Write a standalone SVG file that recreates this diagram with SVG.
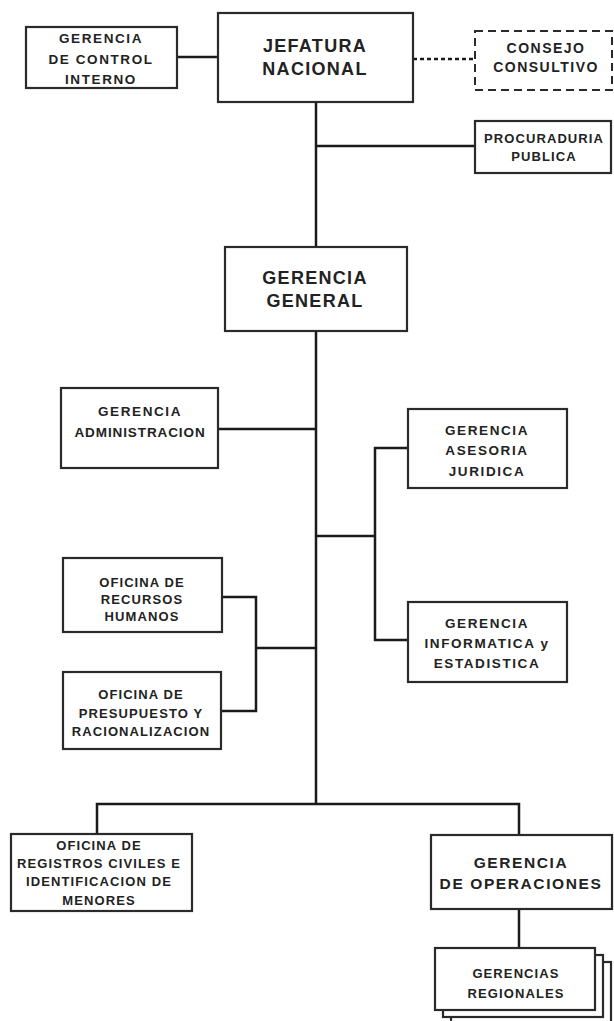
<svg xmlns="http://www.w3.org/2000/svg" width="614" height="1021" viewBox="0 0 614 1021">
<style>
.box{fill:#fff;stroke:#2a2a2a;stroke-width:2.2}
.dash{fill:#fff;stroke:#2a2a2a;stroke-width:2;stroke-dasharray:8 5}
.ln{fill:none;stroke:#1a1a1a;stroke-width:2.5}
.dot{fill:none;stroke:#1a1a1a;stroke-width:2.5;stroke-dasharray:4 3}
text{font-family:"Liberation Sans",Arial,sans-serif;font-weight:bold;fill:#222;text-anchor:middle}
.s{font-size:13px;letter-spacing:1.1px}
.m{font-size:13.5px;letter-spacing:1.6px}
.c{font-size:14px;letter-spacing:1.5px}
.o{font-size:15.5px;letter-spacing:1.6px}
.l{font-size:18px;letter-spacing:1.3px}
</style>
<rect width="614" height="1021" fill="#fff"/>
<g id="connectors">
<line class="ln" x1="177" y1="57" x2="218" y2="57"/>
<line class="dot" x1="413" y1="59" x2="475" y2="59"/>
<line class="ln" x1="316" y1="102" x2="316" y2="247"/>
<line class="ln" x1="316" y1="146" x2="475" y2="146"/>
<line class="ln" x1="316" y1="331" x2="316" y2="805"/>
<line class="ln" x1="218" y1="429" x2="316" y2="429"/>
<polyline class="ln" points="408,448 375,448 375,640 408,640"/>
<line class="ln" x1="316" y1="536" x2="375" y2="536"/>
<polyline class="ln" points="222,597 256,597 256,711 221,711"/>
<line class="ln" x1="256" y1="648" x2="316" y2="648"/>
<polyline class="ln" points="97,834 97,804 519,804 519,835"/>
<line class="ln" x1="519" y1="909" x2="519" y2="948"/>
</g>
<g id="control-interno">
<rect class="box" x="26" y="27" width="151" height="61"/>
<text class="m" x="101" y="43">GERENCIA</text>
<text class="m" x="101" y="64">DE CONTROL</text>
<text class="m" x="101" y="84">INTERNO</text>
</g>
<g id="jefatura">
<rect class="box" x="218" y="13" width="195" height="89"/>
<text class="l" x="315" y="51.5">JEFATURA</text>
<text class="l" x="315" y="74.5">NACIONAL</text>
</g>
<g id="consejo">
<rect class="dash" x="475" y="31" width="137" height="59"/>
<text class="c" x="546" y="53">CONSEJO</text>
<text class="c" x="546" y="72">CONSULTIVO</text>
</g>
<g id="procuraduria">
<rect class="box" x="475" y="121" width="136" height="52"/>
<text class="s" x="544" y="142.5">PROCURADURIA</text>
<text class="s" x="544" y="160.5">PUBLICA</text>
</g>
<g id="gerencia-general">
<rect class="box" x="225" y="247" width="182" height="84"/>
<text class="l" x="315" y="283.5">GERENCIA</text>
<text class="l" x="315" y="306.5">GENERAL</text>
</g>
<g id="administracion">
<rect class="box" x="61" y="388" width="157" height="80"/>
<text class="m" x="140" y="416">GERENCIA</text>
<text class="m" x="140" y="437" style="letter-spacing:0.9px">ADMINISTRACION</text>
</g>
<g id="asesoria">
<rect class="box" x="408" y="409" width="159" height="79"/>
<text class="m" x="487" y="435">GERENCIA</text>
<text class="m" x="487" y="455">ASESORIA</text>
<text class="m" x="487" y="476">JURIDICA</text>
</g>
<g id="recursos-humanos">
<rect class="box" x="63" y="558" width="159" height="74"/>
<text class="s" x="142" y="586.5">OFICINA DE</text>
<text class="s" x="142" y="603.5">RECURSOS</text>
<text class="s" x="142" y="620.5">HUMANOS</text>
</g>
<g id="presupuesto">
<rect class="box" x="63" y="672" width="158" height="77"/>
<text class="s" x="141" y="698.5">OFICINA DE</text>
<text class="s" x="141" y="717.5">PRESUPUESTO Y</text>
<text class="s" x="141" y="735.5">RACIONALIZACION</text>
</g>
<g id="informatica">
<rect class="box" x="408" y="602" width="159" height="80"/>
<text class="m" x="487" y="628">GERENCIA</text>
<text class="m" x="487" y="648">INFORMATICA y</text>
<text class="m" x="487" y="668">ESTADISTICA</text>
</g>
<g id="registros">
<rect class="box" x="11" y="834" width="181" height="77"/>
<text class="s" x="99" y="849.5">OFICINA DE</text>
<text class="s" x="99" y="867.5">REGISTROS CIVILES E</text>
<text class="s" x="99" y="885.5">IDENTIFICACION DE</text>
<text class="s" x="99" y="904.5">MENORES</text>
</g>
<g id="operaciones">
<rect class="box" x="431" y="835" width="181" height="74"/>
<text class="o" x="521" y="867.5">GERENCIA</text>
<text class="o" x="521" y="888.5">DE OPERACIONES</text>
</g>
<g id="regionales">
<rect class="box" x="451" y="962" width="160" height="62"/>
<rect class="box" x="443" y="955" width="160" height="62"/>
<rect class="box" x="435" y="948" width="160" height="62"/>
<text class="s" x="516" y="977.5">GERENCIAS</text>
<text class="s" x="516" y="997.5">REGIONALES</text>
</g>
</svg>
